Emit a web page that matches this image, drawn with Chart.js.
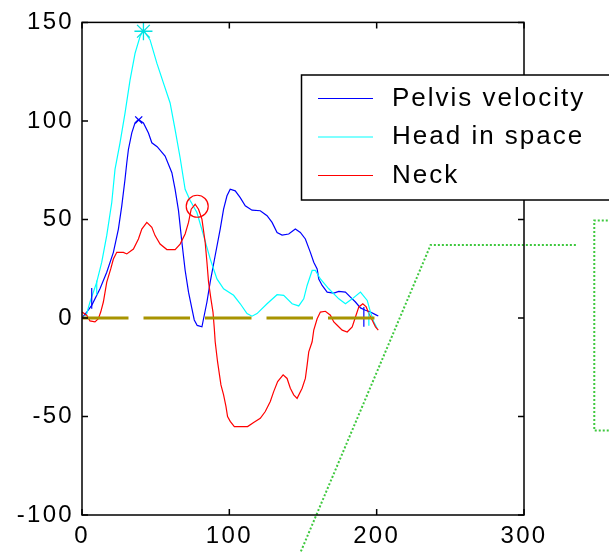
<!DOCTYPE html>
<html>
<head>
<meta charset="utf-8">
<script src="https://cdn.jsdelivr.net/npm/chart.js@4.4.0/dist/chart.umd.min.js"></script>
<style>
  html, body { margin: 0; padding: 0; background: #fff; }
  #wrap { width: 609px; height: 552px; position: relative; }
</style>
</head>
<body>
<div id="wrap"><canvas id="chart"></canvas></div>
<script>
// values
const xTicks = [0, 100, 200, 300];
const yTicks = [-100, -50, 0, 50, 100, 150];

const pelvisX = [0, 3.2, 6.6, 12.2, 16.8, 21.3, 24.7, 27, 29.2, 30.4, 31.5, 33.8, 36, 38.3, 41.7, 45.1, 47.4, 51, 56.4, 61,
  63.2, 65.5, 67.8, 70, 72.3, 74.6, 76.2, 78.2, 81.4, 82.5, 84.8, 87, 90.4, 93.8, 96.1, 98.4, 100.6, 104, 107.4, 110.8,
  115.4, 121, 125.6, 129, 132.4, 135.8, 140.3, 144.8, 148.2, 151.6, 155, 157.3, 159.6, 160.7, 163, 166.4, 170.9, 174.3,
  178.8, 182.2, 185.6, 189, 192.4, 195.8, 199.2, 201.1];
const pelvisY = [0, 3, 6.4, 14.8, 23.2, 33.3, 45.1, 56.9, 70.4, 78.8, 85.5, 93.9, 99, 100.7, 99, 93.9, 88.9, 86.9, 82.2, 73.7,
  65.3, 54.5, 38.4, 24.2, 13.1, 4.7, -1, -3.8, -4.5, -0.4, 8.1, 18.2, 31.7, 45.1, 55.2, 62, 65.3, 64.5, 61.1, 56.9,
  54.7, 54.4, 51.9, 48.5, 43.4, 42.1, 42.6, 45.1, 43.4, 40.1, 33.3, 28.3, 24.9, 19.8, 16.5, 13.1, 12.6, 13.5,
  13.1, 10.6, 8.1, 5.1, 3.9, 3, 1.7, 1];

const headX = [2, 3.2, 5.4, 10, 13.4, 16.8, 20.2, 22.4, 25.8, 29.2, 32.6, 36, 39.4, 41.7, 46.2, 50.8, 55.3, 59.8, 63.2, 66.6,
  70, 73.4, 78, 82.5, 87, 91.6, 96.1, 102.9, 107.4, 112, 115.4, 118.8, 125.6, 132.4, 136.9, 142.6, 147.1, 150.5, 152.8,
  156.2, 158.4, 161.8, 167.5, 174.3, 178.8, 183.4, 189, 193.6, 195.8, 198.1, 200.4];
const headY = [1, 2.2, 8, 18.2, 28.3, 41.9, 58.6, 75.4, 88.9, 104, 120.7, 134.3, 142.8, 146, 141.1, 129.3, 119.2, 109.1, 95.6, 81.3,
  65.3, 59.6, 53.5, 41.9, 30, 19.8, 14.8, 11.5, 7.2, 2.2, 0.9, 2.2, 7.2, 11.8, 11.5, 7.2, 6.1, 9.7, 16.5,
  24.1, 24.1, 19.8, 14.8, 9.7, 7.2, 9.7, 13.1, 8.9, 3, -2, -5.4];

const neckX = [0, 3.2, 5.4, 8.8, 11.1, 12.7, 14.5, 16.8, 19.5, 21.3, 23.6, 28.1, 30.4, 34.9, 38.3, 40.6, 44, 47.4, 49.6, 53,
  57.6, 63.2, 66.6, 70, 72.3, 74.1, 76.8, 79.1, 81.4, 83.6, 84.8, 85.9, 87.5, 88.9, 89.8, 90.4, 92, 94.3, 96.1, 97.7,
  98.8, 100.6, 103.4, 112.4, 116.5, 121, 124.4, 127.8, 130.1, 132.8, 136.5, 139.2, 141.4, 143.7, 146, 149.4, 151.6, 152.8,
  153.9, 156.2, 157.3, 159.6, 161.8, 165.2, 168.6, 170.9, 173.2, 176.6, 180, 183.4, 185.6, 187.9, 190.6, 192.9, 194.7,
  197, 199.2, 201.1];
const neckY = [3, 1.4, -1.5, -2, -0.4, 3, 8.1, 18.2, 24.9, 29.9, 33.3, 33.3, 32.5, 35, 40.1, 45.1, 48.5, 46, 41.8, 37.5,
  34.7, 34.7, 37.5, 42.6, 48.5, 55.2, 57.7, 55.2, 50.2, 38.4, 28.3, 18.2, 9.7, 3, -5.4, -12.1, -22.2, -34, -39, -44.9,
  -50, -52.5, -55.1, -55.1, -53, -50.9, -47.5, -42.4, -37.4, -32.3, -28.9, -30.7, -35.7, -39, -40.8, -35.7, -30.7, -23.9,
  -17.2, -12.1, -6.2, -0.4, 3, 3.4, 1.4, -2, -3.7, -6.2, -7.1, -4.5, 0.5, 5.6, 7.2, 5.6, 2.2,
  -1.2, -4.5, -6.2];

// zero reference line
const zeroX = [0, 198.5];
const zeroY = [0, 0];

// event markers (short vertical bars)
const blueMarkX = [6.6, 6.6, null, 191.3, 191.3];
const blueMarkY = [4.7, 15.2, null, 5.6, -4.5];
const cyanMarkX = [10, 10, null, 194.7, 194.7];
const cyanMarkY = [11.5, 19, null, 3, -4];

// peak markers
const headPeakX = [41.7], headPeakY = [145.5];
const pelvisPeakX = [38.5], pelvisPeakY = [100.5];
const neckPeakX = [78.2], neckPeakY = [56.7];

// green dotted lines spilling over from the neighbouring panel
const greenLineX = [335.2, 236.6, 144.9];
const greenLineY = [37, 37, -125];
const greenBoxX = [365, 347.7, 347.7, 365];
const greenBoxY = [49.5, 49.5, -57.1, -57.1];

function pts(xs, ys) {
  return xs.map((x, i) => (x === null ? {x: NaN, y: NaN} : {x: x, y: ys[i]}));
}

const FONT = '"Liberation Sans", Arial, sans-serif';

const framePlugin = {
  id: 'frame',
  beforeDraw(chart) {
    chart.ctx.letterSpacing = '2.3px';
  },
  afterDatasetsDraw(chart) {
    const ctx = chart.ctx;
    const a = chart.chartArea;
    const sx = chart.scales.x, sy = chart.scales.y;
    ctx.save();
    ctx.strokeStyle = '#000';
    ctx.lineWidth = 1.5;
    ctx.strokeRect(a.left, a.top, a.right - a.left, a.bottom - a.top);
    ctx.beginPath();
    sx.ticks.forEach(t => {
      const px = sx.getPixelForValue(t.value);
      ctx.moveTo(px, a.bottom); ctx.lineTo(px, a.bottom - 6);
      ctx.moveTo(px, a.top); ctx.lineTo(px, a.top + 6);
    });
    sy.ticks.forEach(t => {
      const py = sy.getPixelForValue(t.value);
      ctx.moveTo(a.left, py); ctx.lineTo(a.left + 6, py);
      ctx.moveTo(a.right, py); ctx.lineTo(a.right - 6, py);
    });
    ctx.stroke();
    ctx.restore();
  }
};

const legendPlugin = {
  id: 'boxLegend',
  afterDraw(chart) {
    const ctx = chart.ctx;
    const items = chart.data.datasets.filter(d => d.inLegend);
    ctx.save();
    ctx.fillStyle = '#fff';
    ctx.fillRect(301.5, 75, 330, 125);
    ctx.strokeStyle = '#000';
    ctx.lineWidth = 1.5;
    ctx.strokeRect(301.5, 75, 330, 125);
    ctx.font = '26px ' + FONT;
    ctx.letterSpacing = '2px';
    ctx.textBaseline = 'alphabetic';
    items.forEach((d, i) => {
      const yy = 98.5 + i * 38.5;
      ctx.strokeStyle = d.borderColor;
      ctx.lineWidth = 1.2;
      ctx.beginPath();
      ctx.moveTo(318, yy);
      ctx.lineTo(373, yy);
      ctx.stroke();
      ctx.fillStyle = '#000';
      ctx.fillText(d.label, 392, yy + 7);
    });
    ctx.restore();
  }
};

const curve = {showLine: true, pointRadius: 0, borderWidth: 1.2, fill: false, tension: 0};
function line(opts) { return Object.assign({}, curve, opts); }

new Chart(document.getElementById('chart'), {
  type: 'scatter',
  data: {
    datasets: [
      line({label: 'Pelvis velocity', data: pts(pelvisX, pelvisY), borderColor: '#0000ff', order: 3, inLegend: true}),
      line({label: 'Head in space', data: pts(headX, headY), borderColor: '#00ffff', order: 2, inLegend: true}),
      line({label: 'Neck', data: pts(neckX, neckY), borderColor: '#ff0000', order: 1, inLegend: true}),
      line({label: 'zero', data: pts(zeroX, zeroY), borderColor: '#a89400', borderWidth: 3, borderDash: [46.5, 15], order: 0}),
      line({label: 'pelvis events', data: pts(blueMarkX, blueMarkY), borderColor: '#0000ff', spanGaps: false, order: 0}),
      line({label: 'head events', data: pts(cyanMarkX, cyanMarkY), borderColor: '#00ffff', spanGaps: false, order: 0}),
      {label: 'head peak', data: pts(headPeakX, headPeakY), pointStyle: 'star', pointRadius: 9, borderColor: '#00e0e0', borderWidth: 1.3, backgroundColor: 'transparent', clip: false, order: 0},
      {label: 'pelvis peak', data: pts(pelvisPeakX, pelvisPeakY), pointStyle: 'crossRot', pointRadius: 5, borderColor: '#0000ff', borderWidth: 1.3, clip: false, order: 0},
      {label: 'neck peak', data: pts(neckPeakX, neckPeakY), pointStyle: 'circle', pointRadius: 11, borderColor: '#ff0000', borderWidth: 1.2, backgroundColor: 'transparent', clip: false, order: 0},
      line({label: 'panel trace', data: pts(greenLineX, greenLineY), borderColor: '#3ec83e', borderWidth: 2, borderDash: [2, 2], clip: false, order: 0}),
      line({label: 'panel box', data: pts(greenBoxX, greenBoxY), borderColor: '#3ec83e', borderWidth: 2, borderDash: [2, 2], clip: false, order: 0})
    ]
  },
  options: {
    responsive: true,
    maintainAspectRatio: false,
    animation: false,
    devicePixelRatio: 1,
    layout: {padding: {left: 0, top: 20, right: 85, bottom: 0}},
    plugins: {legend: {display: false}, tooltip: {enabled: false}},
    scales: {
      x: {
        type: 'linear',
        min: xTicks[0],
        max: xTicks[xTicks.length - 1],
        afterBuildTicks: s => { s.ticks = xTicks.map(v => ({value: v})); },
        afterFit: s => { s.height = 37; },
        grid: {display: false, drawTicks: false},
        border: {display: false},
        ticks: {color: '#000', font: {family: FONT, size: 24}, padding: 7, autoSkip: false, maxRotation: 0}
      },
      y: {
        type: 'linear',
        min: yTicks[0],
        max: yTicks[yTicks.length - 1],
        afterBuildTicks: s => { s.ticks = yTicks.map(v => ({value: v})); },
        afterFit: s => { s.width = 82; },
        grid: {display: false, drawTicks: false},
        border: {display: false},
        ticks: {color: '#000', font: {family: FONT, size: 24}, padding: 8, autoSkip: false}
      }
    }
  },
  plugins: [framePlugin, legendPlugin]
});
</script>
</body>
</html>
